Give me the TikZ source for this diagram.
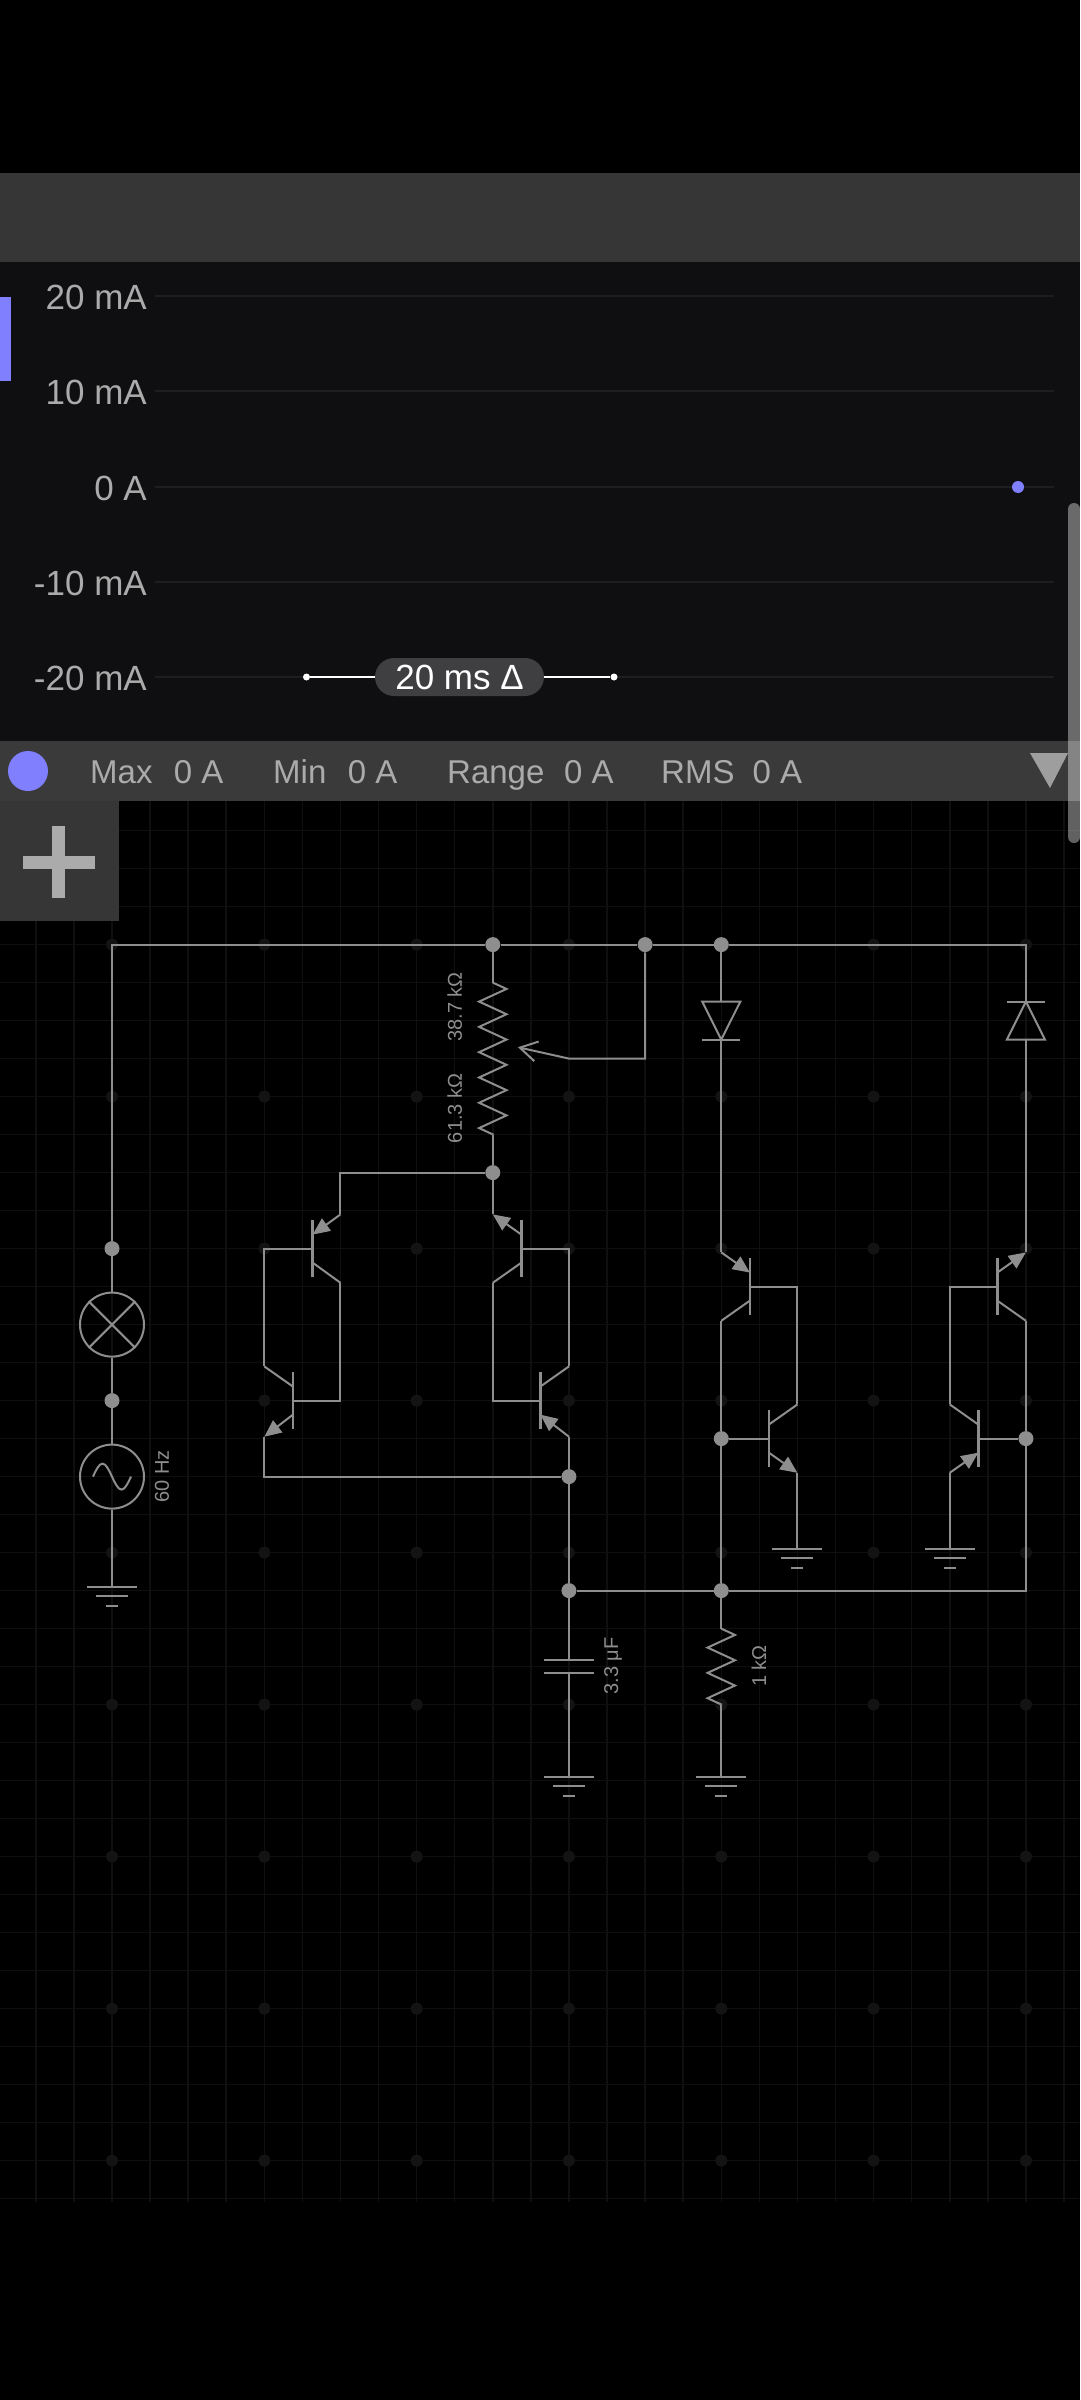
\documentclass[tikz,border=0pt]{standalone}
\usepackage{fontspec}
\setmainfont{Liberation Sans}
\usetikzlibrary{arrows.meta,decorations.pathmorphing}
\definecolor{wirecol}{HTML}{8E8E8E}
\definecolor{barcol}{HTML}{363636}
\definecolor{statcol}{HTML}{3A3A3A}
\definecolor{plotcol}{HTML}{0F0F11}
\definecolor{linecol}{HTML}{1E1E20}
\definecolor{tracecol}{HTML}{8080FF}
\definecolor{faintcol}{HTML}{0F0F0F}
\definecolor{spotcol}{HTML}{131313}
\definecolor{textcol}{HTML}{ABABAB}
\newcommand{\groundmark}[1]{
	\draw[wire] ([xshift=-25pt]#1) -- ([xshift=25pt]#1);
	\draw[wire] ([shift={(-16pt,-9.5pt)}]#1) -- ([shift={(16pt,-9.5pt)}]#1);
	\draw[wire] ([shift={(-6pt,-19pt)}]#1) -- ([shift={(6pt,-19pt)}]#1);
}
\begin{document}
\begin{tikzpicture}[x=1pt, y=-1pt]
		\tikzstyle {wire} = [draw=wirecol, line width=2pt]
		\tikzstyle {tbar} = [draw=wirecol, line width=2.6pt]
		\tikzstyle {emitter} = [wire, -{Triangle[length=17pt,width=15pt]}]
		\tikzstyle {junction} = [circle, fill=wirecol, inner sep=0pt, minimum size=15pt]
		\tikzstyle {round part} = [circle, wire, inner sep=0pt, minimum size=64pt]
		\tikzstyle {part label} = [text=wirecol, rotate=90, inner sep=0pt, font=\fontsize{20}{24}\selectfont]
		\tikzstyle {axis label} = [text=textcol, anchor=base east, inner sep=0pt, font=\fontsize{35}{40}\selectfont]
		\tikzstyle {stat label} = [text=textcol, anchor=base west, inner sep=0pt, font=\fontsize{33}{38}\selectfont]
		\tikzstyle {plot line} = [draw=linecol, line width=1.5pt]
		\tikzstyle {delta end} = [circle, fill=white, inner sep=0pt, minimum size=7pt]

		\path[use as bounding box, fill=black] (0,0) rectangle (1080,2400);

		\begin{scope}[shift={(112,944.6)}, x=38.08pt, y=38pt]
			\draw[step=1.0, faintcol, line width=1.5pt] (-2.94,-33.1) grid (25.4,4);
			\foreach \col in {0,4,...,24}
				\foreach \row in {-32,-28,...,4}
					\fill[spotcol] (\col,\row) circle [radius=6pt];
		\end{scope}

		\begin{scope}[shift={(112,944.6)}, x=38.08pt, y=-38pt]
			\node[junction] (potTop) at (10,0) {};
			\node[junction] (wiperTop) at (14,0) {};
			\node[junction] (diodeTop) at (16,0) {};
			\node[junction] (potBottom) at (10,6) {};
			\node[junction] (lampTop) at (0,8) {};
			\node[junction] (lampBottom) at (0,12) {};
			\node[junction] (leftOut) at (12,14) {};
			\node[junction] (capNode) at (12,17) {};
			\node[junction] (resNode) at (16,17) {};
			\node[junction] (midBase) at (16,13) {};
			\node[junction] (rightBase) at (24,13) {};

			\node[round part] (lamp) at (0,10) {};
			\node[round part] (source) at (0,14) {};
			\draw[wire] (lamp.45) -- (lamp.225);
			\draw[wire] (lamp.135) -- (lamp.315);
			\draw[wire] (source.center) ++(-19pt,0pt) sin ++(9.5pt,13pt) cos ++(9.5pt,-13pt) sin ++(9.5pt,-13pt) cos ++(9.5pt,13pt);
			\node[part label] (freq) at (1.31,14) {60 Hz};

			\coordinate (gndLamp) at (0,16.9);
			\draw[wire] (lampTop) |- (potTop);
			\draw[wire] (potTop) -- (wiperTop);
			\draw[wire] (wiperTop) -- (diodeTop);
			\draw[wire] (lampTop) -- (lamp);
			\draw[wire] (lamp) -- (lampBottom);
			\draw[wire] (lampBottom) -- (source);
			\draw[wire] (source) -- (gndLamp);
			\groundmark{gndLamp}

			\coordinate (potA) at (10,1);
			\coordinate (potB) at (10,5);
			\coordinate (wiperBend) at (12,3);
			\coordinate (wiperTip) at (10.66,2.7);
			\draw[wire] (potTop) -- (potA);
			\draw[wire, decorate, decoration={zigzag, segment length=25.3pt, amplitude=13.7pt}] (potA) -- (potB);
			\draw[wire] (potB) -- (potBottom);
			\draw[wire, -{Straight Barb[length=17pt,width=20pt]}] (wiperTop) |- (wiperBend) -- (wiperTip);
			\node[part label] (potUpper) at (9,1.64) {38.7 kΩ};
			\node[part label] (potLower) at (9,4.31) {61.3 kΩ};

			\coordinate (qae) at (6,7.1); \coordinate (qaei) at (5.27,7.63); \coordinate (qab) at (5.27,8);
			\coordinate (qaci) at (5.27,8.37); \coordinate (qac) at (6,8.9);
			\draw[tbar] (5.27,7.25) -- (5.27,8.75);
			\draw[emitter] (qae) -- (qaei);
			\draw[wire] (qaci) -- (qac);

			\coordinate (qbc) at (4,11.1); \coordinate (qbci) at (4.75,11.63); \coordinate (qbb) at (4.75,12);
			\coordinate (qbei) at (4.75,12.37); \coordinate (qbe) at (4,12.95);
			\draw[tbar] (4.75,11.25) -- (4.75,12.75);
			\draw[emitter] (qbei) -- (qbe);
			\draw[wire] (qbc) -- (qbci);

			\coordinate (qce) at (10,7.1); \coordinate (qcei) at (10.75,7.63); \coordinate (qcb) at (10.75,8);
			\coordinate (qcci) at (10.75,8.37); \coordinate (qcc) at (10,8.9);
			\draw[tbar] (10.75,7.25) -- (10.75,8.75);
			\draw[emitter] (qcei) -- (qce);
			\draw[wire] (qcci) -- (qcc);

			\coordinate (qdc) at (12,11.1); \coordinate (qdci) at (11.25,11.63); \coordinate (qdb) at (11.25,12);
			\coordinate (qdei) at (11.25,12.37); \coordinate (qde) at (12,12.95);
			\draw[tbar] (11.25,11.25) -- (11.25,12.75);
			\draw[emitter] (qde) -- (qdei);
			\draw[wire] (qdc) -- (qdci);

			\draw[wire] (potBottom) -| (qae);
			\draw[wire] (qac) |- (qbb);
			\draw[wire] (qab) -| (qbc);
			\draw[wire] (qbe) |- (leftOut);
			\draw[wire] (potBottom) -- (qce);
			\draw[wire] (qcc) |- (qdb);
			\draw[wire] (qcb) -| (qdc);
			\draw[wire] (qde) -- (leftOut);
			\draw[wire] (leftOut) -- (capNode);

			\coordinate (capA) at (12,18.83);
			\coordinate (capB) at (12,19.17);
			\coordinate (gndCap) at (12,21.9);
			\draw[wire] ([xshift=-25pt]capA) -- ([xshift=25pt]capA);
			\draw[wire] ([xshift=-25pt]capB) -- ([xshift=25pt]capB);
			\draw[wire] (capNode) -- (capA);
			\draw[wire] (capB) -- (gndCap);
			\groundmark{gndCap}
			\node[part label] (capValue) at (13.16,18.98) {3.3 μF};

			\coordinate (resA) at (16,18);
			\coordinate (resB) at (16,20);
			\coordinate (gndRes) at (16,21.9);
			\draw[wire] (resNode) -- (resA);
			\draw[wire, decorate, decoration={zigzag, segment length=25.3pt, amplitude=13.7pt}] (resA) -- (resB);
			\draw[wire] (resB) -- (gndRes);
			\groundmark{gndRes}
			\node[part label] (resValue) at (16.99,18.98) {1 kΩ};

			\coordinate (diodeA) at (16,1.5);
			\coordinate (diodeK) at (16,2.5);
			\draw[wire] (15.5,1.5) -- (16.5,1.5) -- (diodeK) -- cycle;
			\draw[wire] (15.5,2.5) -- (16.5,2.5);

			\coordinate (diodeRK) at (24,1.5);
			\coordinate (diodeRA) at (24,2.5);
			\draw[wire] (23.5,2.5) -- (24.5,2.5) -- (diodeRK) -- cycle;
			\draw[wire] (23.5,1.5) -- (24.5,1.5);

			\coordinate (qee) at (16,8.1); \coordinate (qeei) at (16.75,8.63); \coordinate (qeb) at (16.75,9);
			\coordinate (qeci) at (16.75,9.37); \coordinate (qec) at (16,9.9);
			\draw[tbar] (16.75,8.25) -- (16.75,9.75);
			\draw[emitter] (qee) -- (qeei);
			\draw[wire] (qeci) -- (qec);

			\coordinate (qfc) at (18,12.1); \coordinate (qfci) at (17.25,12.63); \coordinate (qfb) at (17.25,13);
			\coordinate (qfei) at (17.25,13.37); \coordinate (qfe) at (18,13.9);
			\draw[tbar] (17.25,12.25) -- (17.25,13.75);
			\draw[emitter] (qfei) -- (qfe);
			\draw[wire] (qfc) -- (qfci);

			\coordinate (qge) at (24,8.1); \coordinate (qgei) at (23.25,8.63); \coordinate (qgb) at (23.25,9);
			\coordinate (qgci) at (23.25,9.37); \coordinate (qgc) at (24,9.9);
			\draw[tbar] (23.25,8.25) -- (23.25,9.75);
			\draw[emitter] (qgei) -- (qge);
			\draw[wire] (qgci) -- (qgc);

			\coordinate (qhc) at (22,12.1); \coordinate (qhci) at (22.75,12.63); \coordinate (qhb) at (22.75,13);
			\coordinate (qhei) at (22.75,13.37); \coordinate (qhe) at (22,13.9);
			\draw[tbar] (22.75,12.25) -- (22.75,13.75);
			\draw[emitter] (qhe) -- (qhei);
			\draw[wire] (qhc) -- (qhci);

			\coordinate (gndF) at (18,15.9);
			\coordinate (gndH) at (22,15.9);
			\draw[wire] (diodeTop) -- (diodeA);
			\draw[wire] (diodeK) -- (qee);
			\draw[wire] (qec) -- (midBase);
			\draw[wire] (midBase) -- (resNode);
			\draw[wire] (qeb) -| (qfc);
			\draw[wire] (qfb) -- (midBase);
			\draw[wire] (qfe) -- (gndF);
			\groundmark{gndF}
			\draw[wire] (diodeTop) -| (diodeRK);
			\draw[wire] (diodeRA) -- (qge);
			\draw[wire] (qgc) -- (rightBase);
			\draw[wire] (resNode) -| (rightBase);
			\draw[wire] (capNode) -- (resNode);
			\draw[wire] (qgb) -| (qhc);
			\draw[wire] (qhb) -- (rightBase);
			\draw[wire] (qhe) -- (gndH);
			\groundmark{gndH}
		\end{scope}

		\fill[barcol] (0,173) rectangle (1080,262);
		\fill[plotcol] (0,262) rectangle (1080,741);
		\fill[statcol] (0,741) rectangle (1080,801);
		\fill[barcol] (0,801) rectangle (119,921);
		\fill[textcol] (23,855.5) rectangle (95,868.5);
		\fill[textcol] (52,826) rectangle (65,898);
		\fill[tracecol] (0,297) rectangle (11,381);

		\draw[plot line] (155,296) -- (1054,296);
		\draw[plot line] (155,391) -- (1054,391);
		\draw[plot line] (155,487) -- (1054,487);
		\draw[plot line] (155,582) -- (1054,582);
		\draw[plot line] (155,677) -- (1054,677);
		\node[axis label] (ax20) at (147,309) {20 mA};
		\node[axis label] (ax10) at (147,404) {10 mA};
		\node[axis label] (ax0) at (147,500) {0 A};
		\node[axis label] (axm10) at (147,595) {-10 mA};
		\node[axis label] (axm20) at (147,690) {-20 mA};
		\fill[tracecol] (1018,487) circle [radius=6];

		\node[delta end] (deltaL) at (306.5,677) {};
		\node[delta end] (deltaR) at (614,677) {};
		\node[fill=white!20!plotcol, text=white, rounded corners=19pt, minimum width=169pt, minimum height=38pt, inner sep=0pt, font=\fontsize{35}{40}\selectfont] (deltaPill) at (459.5,677) {20 ms Δ};
		\draw[draw=white, line width=2.5pt] (deltaL) -- (deltaPill);
		\draw[draw=white, line width=2.5pt] (deltaPill) -- (deltaR);

		\fill[tracecol] (28,771) circle [radius=20];
		\node[stat label] (statMax) at (90,783) {Max\hspace{0.65em}0 A};
		\node[stat label] (statMin) at (273,783) {Min\hspace{0.65em}0 A};
		\node[stat label] (statRange) at (447,783) {Range\hspace{0.6em}0 A};
		\node[stat label] (statRms) at (661,783) {RMS\hspace{0.55em}0 A};

		\fill[white, opacity=0.38, rounded corners=6pt] (1080,503) -- (1068,503) -- (1068,843) -- (1080,843) -- cycle;
		\fill[white!62!black] (1030,753) -- (1068,753) -- (1050,788) -- cycle;
	\end{tikzpicture}
\end{document}
